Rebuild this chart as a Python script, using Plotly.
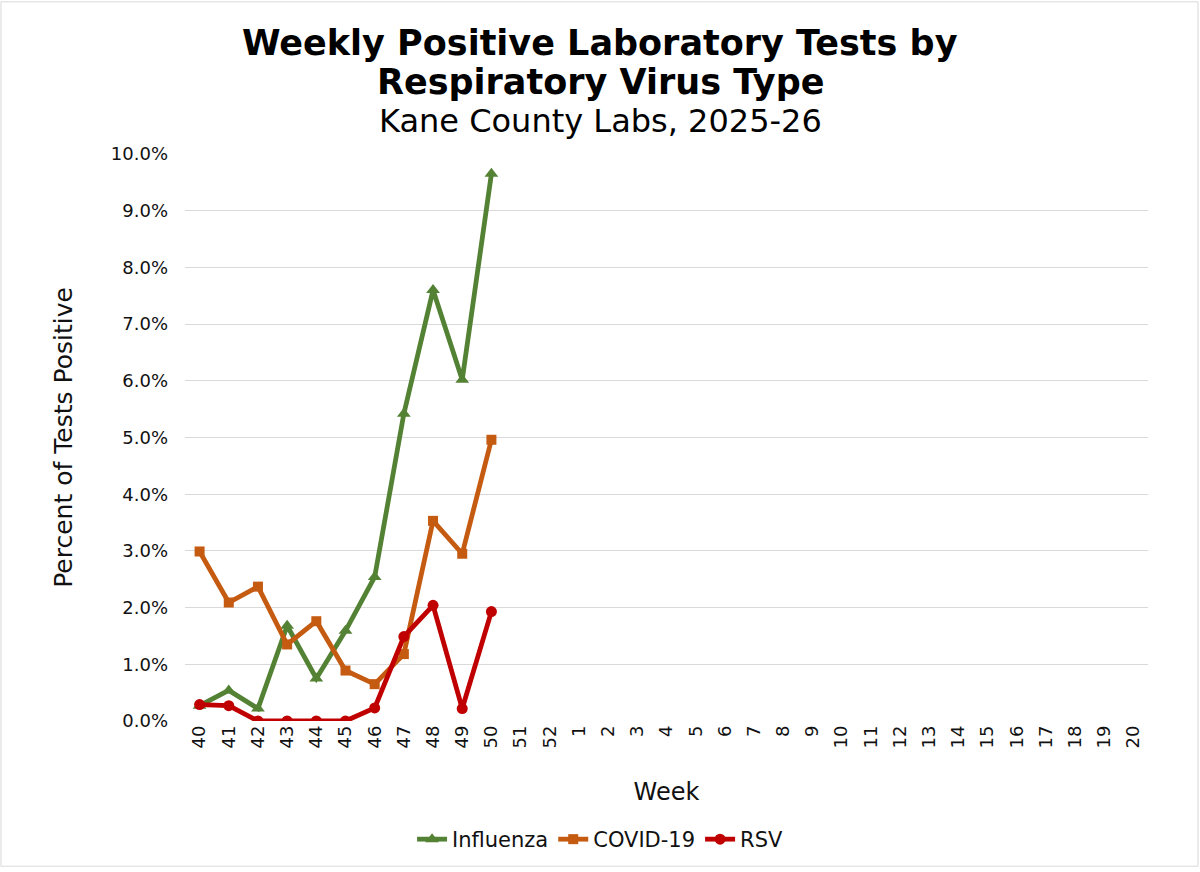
import plotly.graph_objects as go

# === Data (percent of tests positive) ===
weeks = ["40", "41", "42", "43", "44", "45", "46", "47", "48", "49", "50", "51", "52",
         "1", "2", "3", "4", "5", "6", "7", "8", "9", "10", "11", "12", "13", "14",
         "15", "16", "17", "18", "19", "20"]
reported_weeks = weeks[:11]

influenza = [0.27, 0.54, 0.22, 1.68, 0.75, 1.59, 2.54, 5.42, 7.60, 6.02, 9.65]
covid19 = [2.99, 2.09, 2.37, 1.35, 1.76, 0.89, 0.65, 1.18, 3.53, 2.95, 4.96]
rsv = [0.29, 0.27, 0.0, 0.0, 0.0, 0.0, 0.23, 1.49, 2.04, 0.22, 1.93]

series = [
    ("Influenza", influenza, "#548235", "triangle-up", 12),
    ("COVID-19", covid19, "#C55A11", "square", 10),
    ("RSV", rsv, "#C00000", "circle", 11),
]

FONT = "DejaVu Sans"
CENTER_X = 0.431  # paper x that sits at the middle of the whole figure

fig = go.Figure()
for name, vals, color, symbol, msize in series:
    fig.add_trace(go.Scatter(
        x=reported_weeks,
        y=[v / 100 for v in vals],
        name=name,
        mode="lines+markers",
        line=dict(color=color, width=4.8),
        marker=dict(color=color, symbol=symbol, size=msize),
    ))

# === Title lines ===
titles = [
    ("<b>Weekly Positive Laboratory Tests by</b>", 35, 1.195),
    ("<b>Respiratory Virus Type</b>", 35, 1.127),
    ("Kane County Labs, 2025-26", 32, 1.058),
]
for text, size, ypos in titles:
    fig.add_annotation(
        text=text, xref="paper", yref="paper", x=CENTER_X, y=ypos,
        xanchor="center", yanchor="middle", showarrow=False,
        font=dict(family=FONT, size=size, color="black"),
    )

fig.update_layout(
    width=1200, height=872,
    margin=dict(l=185, r=52, t=154, b=148),
    paper_bgcolor="white", plot_bgcolor="white",
    font=dict(family=FONT, color="#111111"),
    showlegend=True,
    legend=dict(
        orientation="h", x=CENTER_X, xanchor="center", y=-0.209, yanchor="middle",
        font=dict(family=FONT, size=21, color="#111111"),
        traceorder="normal",
    ),
    shapes=[dict(
        type="rect", xref="paper", yref="paper",
        x0=-0.19107, x1=1.05192, y0=-0.25614, y1=1.26842,
        line=dict(color="#d9d9d9", width=1), layer="below",
    )],
)

fig.update_xaxes(
    type="category", categoryorder="array", categoryarray=weeks,
    range=[-0.5, len(weeks) - 0.5], automargin=False,
    tickangle=-90, tickfont=dict(size=18, family=FONT, color="#111111"),
    showgrid=False, showline=False, ticks="", zeroline=False,
    title=dict(text="Week", font=dict(size=24, family=FONT, color="#111111"), standoff=35),
)
fig.update_yaxes(
    range=[0, 0.1], dtick=0.01, tickformat=".1%", automargin=False,
    tickfont=dict(size=18, family=FONT, color="#111111"),
    showgrid=True, gridcolor="#d9d9d9", gridwidth=1,
    zeroline=False, showline=False, ticks="", ticklabelstandoff=16,
    title=dict(text="Percent of Tests Positive",
               font=dict(size=25, family=FONT, color="#111111"), standoff=31),
)

fig.write_html("out.html", config={"displayModeBar": False},
               post_script="document.body.style.margin='0';")
